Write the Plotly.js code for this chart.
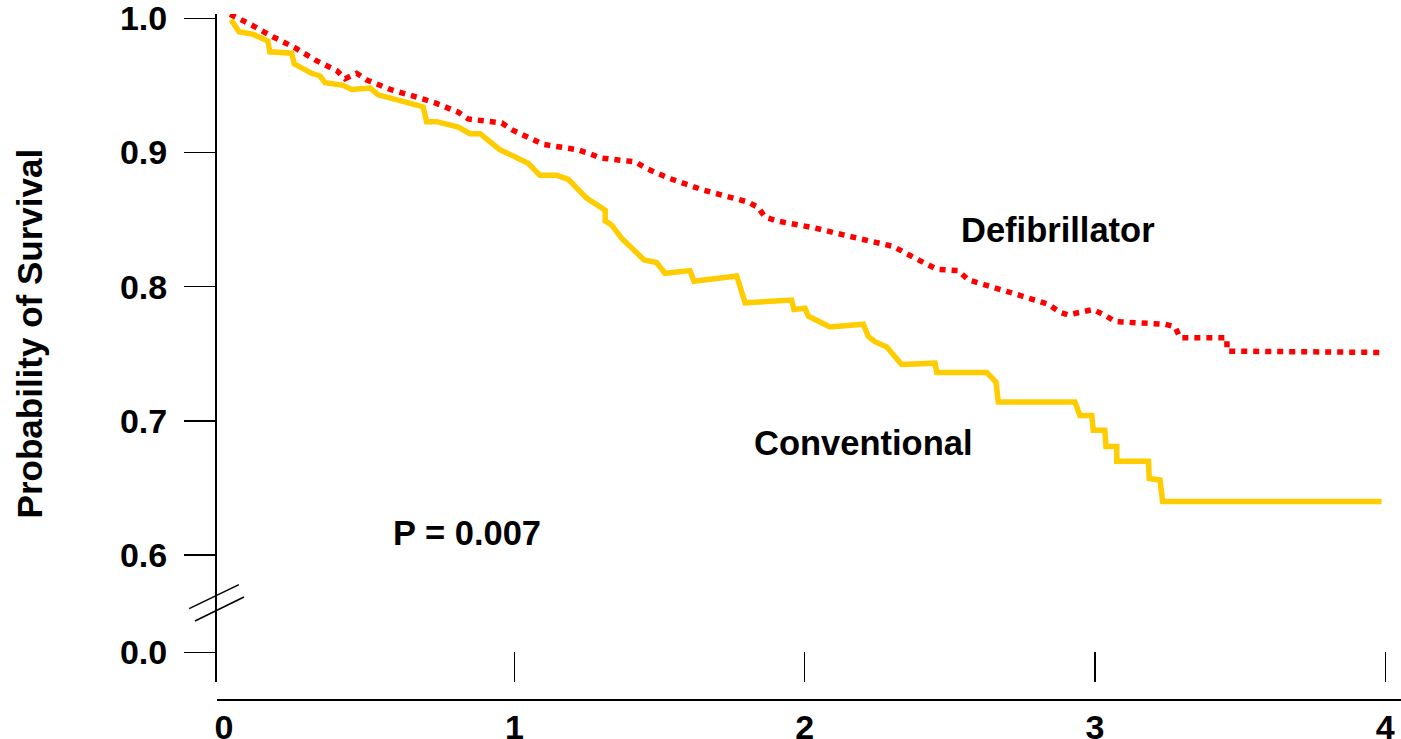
<!DOCTYPE html>
<html>
<head>
<meta charset="utf-8">
<script src="https://cdn.plot.ly/plotly-3.0.1.min.js"></script>
<style>
  html, body { margin: 0; padding: 0; background: #ffffff; }
  #chart { width: 1401px; height: 739px; }
</style>
</head>
<body>
<div id="chart"></div>
<script>
// Kaplan-Meier survival, years after enrolment
const convYears = [0.024, 0.052, 0.101, 0.151, 0.158, 0.233, 0.242, 0.302, 0.331, 0.348,
  0.411, 0.440, 0.503, 0.531, 0.635, 0.686, 0.698, 0.733, 0.807, 0.847,
  0.882, 0.951, 1.048, 1.088, 1.146, 1.186, 1.249, 1.313, 1.313, 1.335,
  1.370, 1.447, 1.490, 1.519, 1.605, 1.619, 1.766, 1.795, 1.955, 1.963,
  2.001, 2.013, 2.041, 2.087, 2.202, 2.219, 2.242, 2.283, 2.334, 2.449,
  2.455, 2.627, 2.659, 2.667, 2.931, 2.948, 2.989, 2.994, 3.034, 3.038,
  3.075, 3.075, 3.184, 3.187, 3.224, 3.233, 3.987];
const convSurvival = [0.999, 0.990, 0.988, 0.983, 0.975, 0.974, 0.966, 0.959, 0.957, 0.952,
  0.950, 0.947, 0.948, 0.943, 0.937, 0.934, 0.923, 0.923, 0.919, 0.914,
  0.914, 0.902, 0.892, 0.883, 0.883, 0.880, 0.866, 0.857, 0.849, 0.846,
  0.836, 0.820, 0.818, 0.810, 0.812, 0.804, 0.808, 0.788, 0.790, 0.783,
  0.784, 0.778, 0.775, 0.770, 0.772, 0.763, 0.759, 0.755, 0.742, 0.743,
  0.736, 0.736, 0.729, 0.714, 0.714, 0.704, 0.704, 0.693, 0.693, 0.681,
  0.681, 0.670, 0.670, 0.657, 0.656, 0.640, 0.640];

const defibYears = [0.021, 0.095, 0.170, 0.245, 0.313, 0.388, 0.417, 0.457, 0.492, 0.572,
  0.652, 0.727, 0.807, 0.841, 0.957, 0.991, 1.100, 1.220, 1.261, 1.295,
  1.416, 1.456, 1.530, 1.651, 1.806, 1.840, 1.863, 1.904, 2.030, 2.145,
  2.305, 2.374, 2.455, 2.529, 2.564, 2.719, 2.839, 2.879, 2.908, 2.994,
  3.040, 3.069, 3.241, 3.276, 3.293, 3.454, 3.455, 3.988];
const defibSurvival = [1.003, 0.995, 0.986, 0.978, 0.969, 0.961, 0.955, 0.959, 0.954, 0.947,
  0.942, 0.937, 0.930, 0.925, 0.922, 0.917, 0.906, 0.902, 0.899, 0.896,
  0.893, 0.888, 0.881, 0.872, 0.863, 0.859, 0.852, 0.849, 0.844, 0.838,
  0.830, 0.822, 0.813, 0.812, 0.805, 0.795, 0.787, 0.781, 0.779, 0.783,
  0.778, 0.774, 0.772, 0.770, 0.762, 0.762, 0.752, 0.751];

// Axis ticks; the axis is broken between 0.0 and 0.6, so 0.0 sits just below the break
const yTickVals = [0.5276, 0.6, 0.7, 0.8, 0.9, 1.0];
const yTickText = ['0.0', '0.6', '0.7', '0.8', '0.9', '1.0'];
const xTickVals = [0, 1, 2, 3, 4];
const xTickText = ['0', '1', '2', '3', '4'];

const seriesNames = ['Conventional', 'Defibrillator'];
const pValueText = 'P = 0.007';
const yTitleText = 'Probability of Survival';

const FONT = 'Liberation Sans, Arial, Helvetica, sans-serif';
const bold = (size) => ({ family: FONT, size: size, color: '#000000', weight: 700 });

const traces = [
  {
    x: convYears, y: convSurvival, type: 'scatter', mode: 'lines', name: seriesNames[0],
    line: { color: '#FFCC00', width: 5.5, simplify: false }, hoverinfo: 'skip'
  },
  {
    x: defibYears, y: defibSurvival, type: 'scatter', mode: 'lines', name: seriesNames[1],
    line: { color: '#FF0000', width: 5.5, dash: '6px,6px', simplify: false }, hoverinfo: 'skip'
  },
  // empty trace so the labelled bottom axis is drawn
  { x: [], y: [], xaxis: 'x2', yaxis: 'y', type: 'scatter', mode: 'lines', hoverinfo: 'skip', showlegend: false }
];

const xRange = [-0.0241, 4.054];

const layout = {
  width: 1401, height: 739,
  margin: { l: 217, r: 0, t: 14, b: 39, pad: 0 },
  paper_bgcolor: '#ffffff', plot_bgcolor: '#ffffff',
  showlegend: false,
  xaxis: {
    range: xRange, anchor: 'y',
    tickvals: xTickVals.slice(1), ticks: 'inside', ticklen: 30, tickwidth: 1.5, tickcolor: '#000000',
    showticklabels: false, showline: false, showgrid: false, zeroline: false, fixedrange: true
  },
  xaxis2: {
    range: xRange, overlaying: 'x', anchor: 'free', position: 0, side: 'bottom',
    tickvals: xTickVals, ticktext: xTickText, ticks: '', tickfont: bold(34),
    ticklabelstandoff: -3, ticklabeloverflow: 'allow',
    showline: true, linewidth: 2, linecolor: '#000000',
    showgrid: false, zeroline: false, fixedrange: true
  },
  yaxis: {
    range: [0.50544, 1.0032], domain: [0.02624, 1],
    tickvals: yTickVals, ticktext: yTickText, ticks: 'outside', ticklen: 31, tickwidth: 1.5,
    tickcolor: '#000000', tickfont: bold(34), ticklabelstandoff: 10, ticklabeloverflow: 'allow',
    showline: true, linewidth: 2, linecolor: '#000000',
    showgrid: false, zeroline: false, fixedrange: true
  },
  shapes: [
    // break marks across the vertical axis
    { type: 'line', xref: 'paper', yref: 'paper', x0: -0.0235, y0: 0.1332, x1: 0.0185, y1: 0.1682,
      line: { color: '#000000', width: 1.5 } },
    { type: 'line', xref: 'paper', yref: 'paper', x0: -0.0186, y0: 0.1152, x1: 0.0228, y1: 0.1502,
      line: { color: '#000000', width: 1.5 } }
  ],
  annotations: [
    { x: 2.873, y: 0.8422, xref: 'x', yref: 'y', text: seriesNames[1], showarrow: false,
      xanchor: 'center', yanchor: 'middle', font: bold(34.5) },
    { x: 2.201, y: 0.6835, xref: 'x', yref: 'y', text: seriesNames[0], showarrow: false,
      xanchor: 'center', yanchor: 'middle', font: bold(34.5) },
    { x: 0.837, y: 0.6165, xref: 'x', yref: 'y', text: pValueText, showarrow: false,
      xanchor: 'center', yanchor: 'middle', font: bold(34.5) },
    { x: -0.158, y: 0.5343, xref: 'paper', yref: 'paper', text: yTitleText, showarrow: false,
      textangle: -90, xanchor: 'center', yanchor: 'middle', font: bold(35) }
  ]
};

Plotly.newPlot('chart', traces, layout, { displayModeBar: false, staticPlot: true });
</script>
</body>
</html>
